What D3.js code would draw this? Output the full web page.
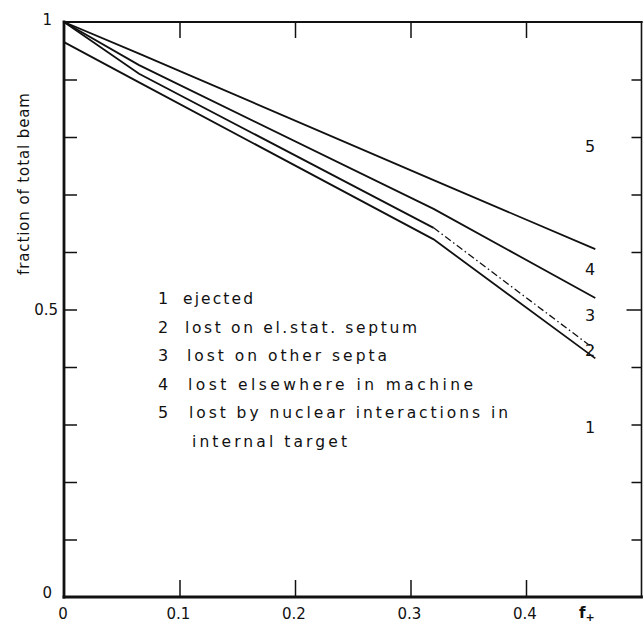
<!DOCTYPE html>
<html>
<head>
<meta charset="utf-8">
<script src="https://cdn.jsdelivr.net/npm/d3@7"></script>
<style>
  body { margin: 0; background: #fff; }
  svg text { font-family: "DejaVu Sans", sans-serif; fill: #111; }
</style>
</head>
<body>
<div id="chart"></div>
<script>
// f+ values where the curves bend
var fValues = [0, 0.065, 0.32, 0.46];
// cumulative fractions (boundaries between the regions 1..5)
var curve5 = [1.0, 0.945, 0.725, 0.605];   // 1 - lost by nuclear interactions
var curve4 = [1.0, 0.925, 0.675, 0.52];    // 1+2+3
var curve3 = [1.0, 0.91, 0.642, 0.43];     // 1+2 (dash-dot after the bend)
var curve2 = [0.965, 0.895, 0.622, 0.415]; // ejected
var xTicks = [0, 0.1, 0.2, 0.3, 0.4];
var yTicks = [0, 0.5, 1];
var regionLabels = ["5", "4", "3", "2", "1"];
var regionLabelY = [0.785, 0.57, 0.49, 0.43, 0.295];
var legendNums = ["1", "2", "3", "4", "5", ""];
var legendTexts = [
  "ejected",
  "lost on el.stat. septum",
  "lost on other septa",
  "lost elsewhere in machine",
  "lost by nuclear interactions in",
  "internal target"
];

var W = 644, H = 623;
var svg = d3.select("#chart").append("svg")
    .attr("width", W)
    .attr("height", H);

var x = d3.scaleLinear().domain([0, 0.5]).range([64, 641.5]);
var y = d3.scaleLinear().domain([0, 1]).range([597, 22]);

// frame, heavier on the left and bottom like the original drawing
var frame = [
  [[0, 0], [0, 1], 2.8],
  [[0, 0], [0.5, 0], 2.8],
  [[0, 1], [0.5, 1], 2.2],
  [[0.5, 0], [0.5, 1], 1.6]
];
frame.forEach(function(f) {
    svg.append("line")
        .attr("x1", x(f[0][0])).attr("y1", y(f[0][1]))
        .attr("x2", x(f[1][0])).attr("y2", y(f[1][1]))
        .attr("stroke", "#111").attr("stroke-width", f[2])
        .attr("stroke-linecap", "square");
});

// inward ticks on all four sides
var minor = d3.range(1, 10).map(function(i) { return i / 10; });
svg.append("g").attr("transform", "translate(0," + y(0) + ")")
    .call(d3.axisBottom(x).tickValues([0.1, 0.2, 0.3, 0.4]).tickSize(-17).tickFormat(""))
    .call(function(g) { g.select(".domain").remove(); });
svg.append("g").attr("transform", "translate(0," + y(1) + ")")
    .call(d3.axisTop(x).tickValues([0.1, 0.2, 0.3, 0.4]).tickSize(-16).tickFormat(""))
    .call(function(g) { g.select(".domain").remove(); });
svg.append("g").attr("transform", "translate(" + x(0) + ",0)")
    .call(d3.axisLeft(y).tickValues(minor).tickSize(-13).tickFormat(""))
    .call(function(g) { g.select(".domain").remove(); });
svg.append("g").attr("transform", "translate(" + x(0.5) + ",0)")
    .call(d3.axisRight(y).tickValues(minor).tickSize(-10).tickFormat(""))
    .call(function(g) { g.select(".domain").remove(); })
    .selectAll(".tick line")
    .attr("x2", function(d) { return d === 0.5 ? -15 : -10; });
svg.selectAll(".tick line").attr("stroke", "#111").attr("stroke-width", 1.5);

// tick labels
svg.selectAll(".xlab").data(xTicks).enter().append("text")
    .attr("x", function(d) { return x(d) - 1; })
    .attr("y", 619)
    .attr("text-anchor", "middle")
    .style("font-size", "15px")
    .text(function(d) { return d === 0 ? "0" : d3.format(".1f")(d); });
svg.selectAll(".ylab").data(yTicks).enter().append("text")
    .attr("x", function(d) { return d === 0.5 ? 58 : 52; })
    .attr("y", function(d) { return y(d) + (d === 1 ? 3 : d === 0 ? 1 : 5); })
    .attr("text-anchor", "end")
    .style("font-size", "15px")
    .text(function(d) { return d === 0.5 ? "0.5" : d; });

// axis titles
svg.append("text")
    .attr("transform", "translate(29," + 184 + ") rotate(-90)")
    .attr("text-anchor", "middle")
    .attr("textLength", 182)
    .attr("lengthAdjust", "spacing")
    .style("font-size", "15px")
    .text("fraction of total beam");
var fl = svg.append("text")
    .attr("x", 579).attr("y", 618)
    .style("font-size", "15px")
    .style("font-weight", "bold")
    .text("f");
fl.append("tspan").attr("dy", 3).style("font-size", "11px").text("+");

// curves
var line = d3.line()
    .x(function(d) { return x(d[0]); })
    .y(function(d) { return y(d[1]); });

function pts(vals) { return fValues.map(function(f, i) { return [f, vals[i]]; }); }

[curve5, curve4, curve2].forEach(function(c) {
    svg.append("path")
        .attr("d", line(pts(c)))
        .attr("fill", "none").attr("stroke", "#111").attr("stroke-width", 1.8);
});
var c3 = pts(curve3);
svg.append("path")
    .attr("d", line(c3.slice(0, 3)))
    .attr("fill", "none").attr("stroke", "#111").attr("stroke-width", 1.8);
svg.append("path")
    .attr("d", line(c3.slice(2)))
    .attr("fill", "none").attr("stroke", "#111").attr("stroke-width", 1.3)
    .attr("stroke-dasharray", "7,3,1.5,3");

// region numbers at the right
svg.selectAll(".rlab").data(regionLabels).enter().append("text")
    .attr("x", 590)
    .attr("y", function(d, i) { return y(regionLabelY[i]) + 6; })
    .attr("text-anchor", "middle")
    .style("font-size", "16px")
    .text(function(d) { return d; });

// legend
var legendX = [183, 185, 187, 188, 189, 192];
var legendW = [70, 232, 200, 285, 319, 155];
var leg = svg.append("g");
leg.selectAll(".num").data(legendNums).enter().append("text")
    .attr("x", 163)
    .attr("y", function(d, i) { return 304 + i * 28.6; })
    .attr("text-anchor", "middle")
    .style("font-size", "16px")
    .text(function(d) { return d; });
leg.selectAll(".txt").data(legendTexts).enter().append("text")
    .attr("x", function(d, i) { return legendX[i]; })
    .attr("y", function(d, i) { return 304 + i * 28.6; })
    .attr("textLength", function(d, i) { return legendW[i]; })
    .attr("lengthAdjust", "spacing")
    .style("font-size", "15.5px")
    .text(function(d) { return d; });
</script>
</body>
</html>
